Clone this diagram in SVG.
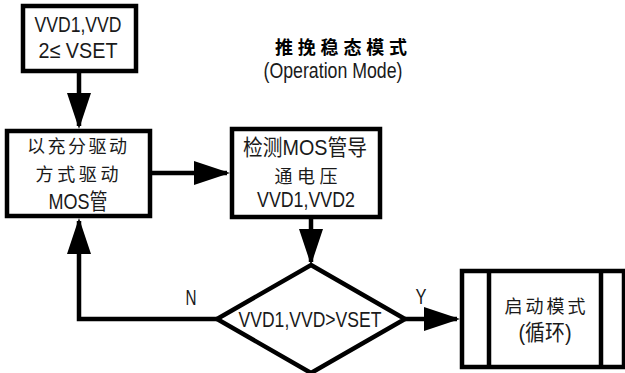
<svg xmlns="http://www.w3.org/2000/svg" width="625" height="373" viewBox="0 0 625 373">
  <style>
    .box { fill: #ffffff; stroke: #000000; stroke-width: 4.5; }
    .ln { fill: none; stroke: #000000; stroke-width: 4.5; }
    .t { font-family: "Liberation Sans", "Noto Sans CJK SC", sans-serif; font-size: 22px; fill: #1a1a1a; text-anchor: middle; }
    .c { font-family: "Noto Sans CJK SC", "Liberation Sans", sans-serif; font-size: 18px; fill: #1a1a1a; text-anchor: middle; }
    .title { font-family: "Noto Sans CJK SC", sans-serif; font-size: 18px; font-weight: bold; fill: #000000; text-anchor: middle; }
  </style>
  <defs>
    <marker id="arr" markerUnits="userSpaceOnUse" markerWidth="36" markerHeight="24" refX="33" refY="12" orient="auto">
      <path d="M0,0 L36,12 L0,24 Z" fill="#000000"/>
    </marker>
  </defs>
  <rect x="0" y="0" width="625" height="373" fill="#ffffff"/>

  <g id="connectors">
    <path class="ln" d="M79,73 V126" marker-end="url(#arr)"/>
    <path class="ln" d="M152,173 H227" marker-end="url(#arr)"/>
    <path class="ln" d="M311,219 V262" marker-end="url(#arr)"/>
    <path class="ln" d="M405,319 H457" marker-end="url(#arr)"/>
    <path class="ln" d="M217,319 H79 V221" marker-end="url(#arr)"/>
    <text class="t" x="191" y="305" font-size="20" textLength="11" lengthAdjust="spacingAndGlyphs">N</text>
    <text class="t" x="421" y="304" font-size="20" textLength="11" lengthAdjust="spacingAndGlyphs">Y</text>
  </g>

  <g id="title">
    <text class="title" x="341" y="54" textLength="132" lengthAdjust="spacing">推挽稳态模式</text>
    <text class="t" x="333" y="78" font-size="17" textLength="139" lengthAdjust="spacingAndGlyphs">(Operation Mode)</text>
  </g>

  <g id="start">
    <rect class="box" x="23" y="6" width="113" height="65"/>
    <text class="t" x="78" y="32" textLength="87" lengthAdjust="spacingAndGlyphs">VVD1,VVD</text>
    <text class="t" x="78" y="58" textLength="79" lengthAdjust="spacingAndGlyphs">2≤ VSET</text>
  </g>

  <g id="drive">
    <rect class="box" x="7" y="131" width="143" height="85"/>
    <text class="c" x="77" y="153" textLength="100" lengthAdjust="spacing">以充分驱动</text>
    <text class="c" x="77" y="181" textLength="83" lengthAdjust="spacing">方式驱动</text>
    <text class="t" x="78" y="209" textLength="59" lengthAdjust="spacingAndGlyphs">MOS管</text>
  </g>

  <g id="detect">
    <rect class="box" x="232" y="129" width="148" height="88"/>
    <text class="t" x="305" y="155" textLength="124" lengthAdjust="spacingAndGlyphs">检测MOS管导</text>
    <text class="c" x="306" y="183" textLength="63" lengthAdjust="spacing">通电压</text>
    <text class="t" x="306" y="207" textLength="98" lengthAdjust="spacingAndGlyphs">VVD1,VVD2</text>
  </g>

  <g id="decision">
    <polygon class="box" points="311,265 405,319 311,373 217,319"/>
    <text class="t" x="310" y="327" textLength="143" lengthAdjust="spacingAndGlyphs">VVD1,VVD&gt;VSET</text>
  </g>

  <g id="startup">
    <rect class="box" x="462" y="271" width="162" height="96"/>
    <line class="ln" x1="489" y1="271" x2="489" y2="367"/>
    <line class="ln" x1="601" y1="271" x2="601" y2="367"/>
    <text class="c" x="545" y="313" textLength="81" lengthAdjust="spacing">启动模式</text>
    <text class="t" x="545" y="340" textLength="53" lengthAdjust="spacingAndGlyphs">(循环)</text>
  </g>
</svg>
